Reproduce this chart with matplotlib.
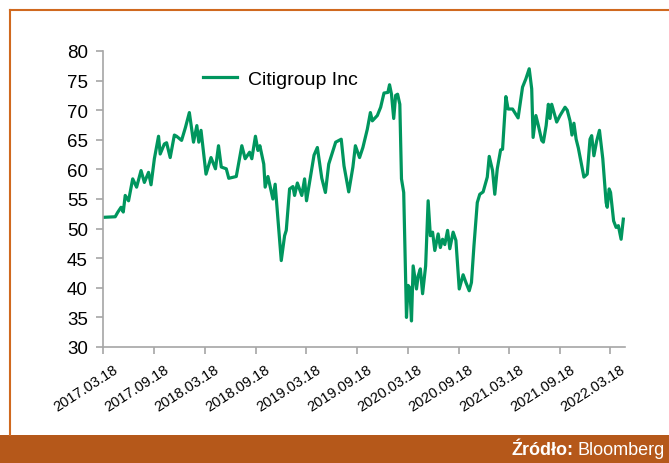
#!/usr/bin/env python3
"""
Citigroup Inc share price, 2017-2022, with the orange source band underneath.
"""

import matplotlib
matplotlib.use("Agg")
import matplotlib.pyplot as plt
import matplotlib.transforms as mtransforms
from matplotlib.lines import Line2D
from matplotlib.patches import Rectangle
import pandas as pd

# --- Data ---
dates = [
    "2017-03-17", "2017-04-30", "2017-05-09", "2017-05-21", "2017-05-29", "2017-06-05",
    "2017-06-17", "2017-07-02", "2017-07-16", "2017-08-01", "2017-08-13", "2017-08-28",
    "2017-09-06", "2017-09-18", "2017-10-03", "2017-10-09", "2017-10-24", "2017-11-01",
    "2017-11-14", "2017-11-29", "2017-12-07", "2017-12-25", "2018-01-08", "2018-01-22",
    "2018-02-06", "2018-02-18", "2018-02-25", "2018-03-05", "2018-03-23", "2018-04-10",
    "2018-04-26", "2018-05-07", "2018-05-17", "2018-06-04", "2018-06-13", "2018-07-10",
    "2018-07-30", "2018-08-11", "2018-08-27", "2018-09-04", "2018-09-17", "2018-09-26",
    "2018-10-03", "2018-10-17", "2018-10-22", "2018-11-01", "2018-11-19", "2018-11-27",
    "2018-12-19", "2018-12-31", "2019-01-06", "2019-01-18", "2019-01-30", "2019-02-05",
    "2019-02-15", "2019-03-03", "2019-03-13", "2019-03-20", "2019-04-04", "2019-04-16",
    "2019-04-28", "2019-05-14", "2019-05-27", "2019-06-08", "2019-07-03", "2019-07-23",
    "2019-08-02", "2019-08-19", "2019-09-03", "2019-09-12", "2019-09-27", "2019-10-09",
    "2019-10-25", "2019-11-05", "2019-11-12", "2019-11-30", "2019-12-12", "2019-12-24",
    "2020-01-07", "2020-01-13", "2020-01-20", "2020-01-28", "2020-02-04", "2020-02-11",
    "2020-02-19", "2020-02-25", "2020-03-04", "2020-03-14", "2020-03-20", "2020-03-26",
    "2020-04-01", "2020-04-07", "2020-04-19", "2020-04-25", "2020-05-03", "2020-05-11",
    "2020-05-22", "2020-05-31", "2020-06-08", "2020-06-16", "2020-06-24", "2020-07-06",
    "2020-07-14", "2020-07-22", "2020-07-30", "2020-08-09", "2020-08-17", "2020-08-29",
    "2020-09-08", "2020-09-20", "2020-10-04", "2020-10-14", "2020-10-26", "2020-11-03",
    "2020-11-12", "2020-11-24", "2020-12-03", "2020-12-15", "2020-12-30", "2021-01-06",
    "2021-01-18", "2021-01-26", "2021-02-04", "2021-02-16", "2021-02-23", "2021-03-07",
    "2021-03-15", "2021-03-31", "2021-04-15", "2021-04-20", "2021-05-06", "2021-05-18",
    "2021-05-30", "2021-06-08", "2021-06-13", "2021-06-23", "2021-07-02", "2021-07-14",
    "2021-07-20", "2021-07-30", "2021-08-07", "2021-08-13", "2021-08-19", "2021-09-06",
    "2021-09-18", "2021-10-06", "2021-10-14", "2021-10-24", "2021-10-31", "2021-11-07",
    "2021-11-15", "2021-11-23", "2021-12-13", "2021-12-25", "2022-01-04", "2022-01-10",
    "2022-01-18", "2022-01-28", "2022-02-07", "2022-02-19", "2022-03-03", "2022-03-07",
    "2022-03-14", "2022-03-19", "2022-03-30", "2022-04-08", "2022-04-16", "2022-04-26",
    "2022-05-04",
]
prices = [
    51.9, 52.0, 52.75, 53.6, 52.8, 55.6,
    54.7, 58.4, 57.0, 59.8, 57.8, 59.5,
    57.4, 61.8, 65.6, 62.6, 64.3, 64.5,
    62.0, 65.8, 65.6, 64.9, 67.1, 69.6,
    64.6, 67.4, 64.6, 66.6, 59.2, 62.0,
    60.1, 64.0, 60.4, 60.1, 58.5, 58.8,
    64.0, 61.8, 62.9, 61.8, 65.6, 63.2,
    64.0, 60.9, 57.0, 58.8, 55.0, 57.5,
    44.6, 48.8, 49.7, 56.7, 57.1, 55.6,
    57.7, 55.6, 58.4, 54.7, 59.0, 62.4,
    63.7, 58.5, 56.1, 60.9, 64.6, 65.1,
    60.6, 56.2, 60.4, 64.0, 62.0, 63.7,
    66.8, 69.6, 68.2, 69.1, 70.5, 72.9,
    73.0, 74.3, 72.7, 68.6, 72.5, 72.7,
    71.0, 58.4, 56.1, 35.0, 40.4, 40.0,
    34.4, 43.7, 39.8, 42.0, 43.2, 39.0,
    43.7, 54.7, 48.8, 49.4, 46.3, 49.1,
    46.8, 48.2, 47.3, 49.7, 46.6, 49.4,
    48.0, 39.8, 42.2, 40.9, 39.5, 40.9,
    47.1, 54.4, 55.8, 56.2, 58.7, 62.2,
    59.8, 55.8, 60.1, 63.3, 63.4, 72.3,
    70.2, 70.2, 69.1, 68.7, 73.9, 75.3,
    77.0, 73.6, 65.4, 69.1, 67.4, 64.9,
    64.6, 67.4, 71.0, 68.6, 71.0, 68.0,
    69.1, 70.5, 70.0, 68.2, 65.8, 67.8,
    65.1, 63.6, 58.7, 59.2, 65.1, 65.7,
    62.3, 64.8, 66.6, 61.8, 54.4, 53.6,
    56.7, 56.1, 51.3, 50.2, 50.5, 48.2,
    51.6,
]
tick_dates = [
    "2017-03-18", "2017-09-18", "2018-03-18", "2018-09-18", "2019-03-18", "2019-09-18",
    "2020-03-18", "2020-09-18", "2021-03-18", "2021-09-18", "2022-03-18",
]
y_ticks = [30, 35, 40, 45, 50, 55, 60, 65, 70, 75, 80]
series_label = "Citigroup Inc"
source_bold = "Źródło:"
source_name = "Bloomberg"

# --- Styling ---
GREEN = "#00965E"
ORANGE = "#B5581A"
BORDER = "#D0691F"
AXIS_GREY = "#A6A6A6"

plt.rcParams['font.family'] = ['Liberation Sans', 'DejaVu Sans']

W, H = 669, 464
fig = plt.figure(figsize=(W / 100, H / 100), dpi=100)
ax = fig.add_axes([103 / W, 1 - 348 / H, (625 - 103) / W, (348 - 52) / H])

x = pd.to_datetime(dates)
ax.plot(x, prices, color=GREEN, linewidth=2.3, label=series_label, solid_joinstyle='round')

ax.set_ylim(y_ticks[0], y_ticks[-1])
ax.set_yticks(y_ticks)
ax.set_xlim(pd.Timestamp("2017-03-17"), pd.Timestamp("2022-05-10"))

for s in ('top', 'right'):
    ax.spines[s].set_visible(False)
for s in ('left', 'bottom'):
    ax.spines[s].set_color(AXIS_GREY)
    ax.spines[s].set_linewidth(1.2)
ax.tick_params(axis='both', color=AXIS_GREY, length=5, width=1.2, direction='out')
ax.tick_params(axis='y', labelsize=13.5, pad=6)
ax.tick_params(axis='x', pad=6)

ticks = pd.to_datetime(tick_dates)
ax.set_xticks(ticks)
ax.set_xticklabels([t.strftime("%Y.%m.%d") for t in ticks], rotation=33,
                   ha='right', va='top', fontsize=10.5)

ax.legend(loc='center left', bbox_to_anchor=(203 / W, 1 - 80 / H),
          bbox_transform=fig.transFigure, frameon=False, fontsize=14,
          handlelength=1.75, handletextpad=0.57, borderpad=0, borderaxespad=0)

# --- Frame and source band ---
fig.add_artist(Line2D([10 / W, 1], [1 - 11 / H, 1 - 11 / H], color=BORDER, lw=1.5,
                      transform=fig.transFigure))
fig.add_artist(Line2D([10 / W, 10 / W], [1 - 11 / H, 28 / H], color=BORDER, lw=1.5,
                      transform=fig.transFigure))
fig.add_artist(Rectangle((0, 0), 1, 28 / H, color=ORANGE, transform=fig.transFigure,
                         linewidth=0))

t_name = fig.text(665 / W, 13 / H, source_name, color='white', fontsize=13,
                  ha='right', va='center')
fig.canvas.draw()
bb = t_name.get_window_extent()
fig.text(bb.x0 - 4, 13, source_bold, color='white', fontsize=13,
         fontweight='bold', ha='right', va='center', transform=None)

# shift the rotated date labels right, as in the source chart
shift = mtransforms.ScaledTranslation(0.17, 0, fig.dpi_scale_trans)
for lbl in ax.get_xticklabels():
    lbl.set_transform(lbl.get_transform() + shift)

fig.savefig("out.png", dpi=100)
